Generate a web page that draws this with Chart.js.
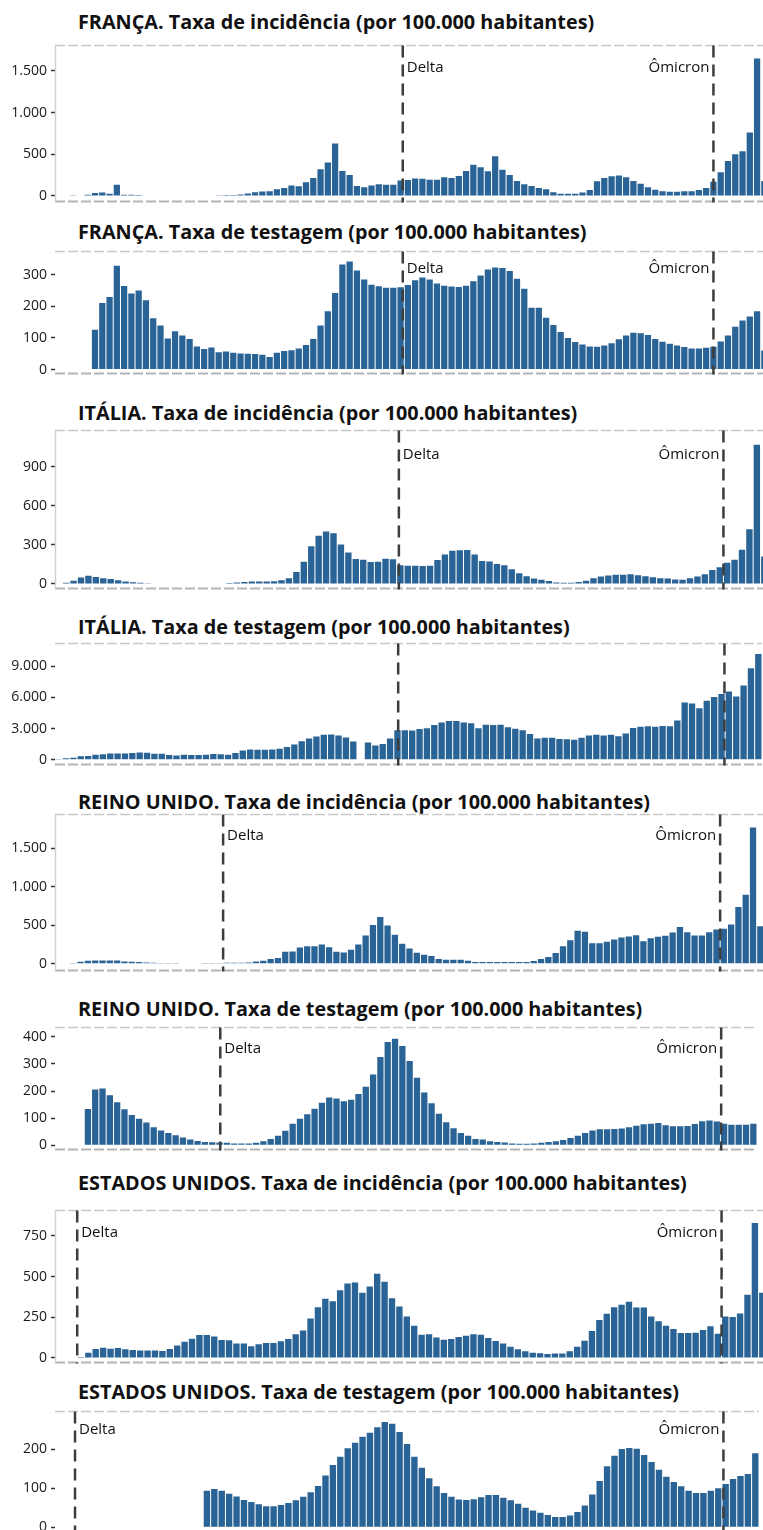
<!DOCTYPE html>
<html>
<head>
<meta charset="utf-8">
<script src="https://cdn.jsdelivr.net/npm/chart.js@4.4.1/dist/chart.umd.min.js"></script>
<style>
  html, body { margin: 0; padding: 0; background: #fff; }
  body { position: relative; width: 763px; height: 1530px; overflow: hidden; }
  .title { position: absolute; left: 78px; height: 22px; line-height: 22px; white-space: nowrap;
           font: bold 19px "Open Sans", sans-serif; color: #111; transform-origin: 0 50%; }
  canvas { position: absolute; left: 0; }
</style>
</head>
<body>
<script>
// weekly rates, one value per week slot (null = no data); last value is cut by the picture edge
const frIncidence = [null, null,
  3, 5, 15, 35, 40, 25, 135, 15, 15, 10, 5, 5, 5, 5, 5, 5, 5, 5, 5, 5, 8, 10, 12,
  18, 28, 45, 52, 55, 80, 95, 125, 115, 165, 215, 320, 400, 630, 300, 250, 120, 105, 125, 140, 135, 135, 185,
  190, 210, 205, 195, 195, 225, 215, 240, 300, 375, 345, 295, 475, 315, 250, 180, 140, 120, 95, 80, 45,
  25, 25, 25, 40, 70, 175, 215, 235, 245, 225, 180, 145, 105, 75, 55, 50, 50, 55, 55, 70, 95,
  170, 285, 420, 500, 535, 760, 1650, 180];
const frTesting = [null, null, null, null, null,
  126, 210, 229, 328, 264, 240, 250, 219, 162, 139, 98, 121, 108, 97, 73, 65, 70, 55, 57, 53, 51, 50,
  49, 47, 40, 53, 59, 61, 67, 78, 97, 139, 184, 242, 332, 341, 313, 284, 268, 263, 258, 258, 260,
  267, 282, 291, 284, 272, 265, 262, 261, 265, 279, 297, 316, 322, 321, 311, 287, 255, 195, 195, 164,
  141, 119, 100, 87, 79, 73, 72, 76, 83, 96, 108, 116, 115, 109, 97, 88, 82, 76, 71, 67, 67, 69,
  72, 89, 108, 135, 155, 168, 184, 60];
const itIncidence = [null,
  8, 25, 50, 63, 53, 43, 38, 28, 18, 13, 8, 5, 3, 2, 2, 2, 2, 2, 2, 2, 2, 3,
  6, 10, 15, 18, 18, 18, 20, 28, 43, 92, 171, 290, 370, 403, 390, 303, 242, 191, 186, 168, 171, 194, 189,
  143, 140, 140, 138, 140, 184, 227, 255, 258, 260, 227, 176, 173, 153, 143, 112, 82, 59, 41, 31, 23, 10,
  8, 8, 15, 25, 43, 56, 64, 71, 71, 74, 66, 59, 51, 43, 41, 33, 31, 43, 56, 74, 107, 128,
  163, 186, 263, 421, 1071, 210];
const itTesting = [
  60, 130, 190, 320, 350, 480, 510, 600, 600, 600, 640, 700, 670, 570, 570, 450, 410, 480, 450, 450,
  480, 540, 510, 480, 640, 890, 990, 950, 950, 990, 1050, 1210, 1460, 1780, 2040, 2230, 2390, 2420, 2320, 2130,
  1750, null, 1650, 1370, 1500, 2040,
  2830, 2830, 2800, 2960, 3020, 3340, 3590, 3720, 3720, 3590, 3500, 3020, 3370, 3340, 3370, 3120, 2990, 2830,
  2480, 2040, 2100, 2100, 2000, 1970, 1910, 2100, 2320, 2390, 2320, 2390, 2260, 2510, 3050, 3180, 3210, 3180,
  3240, 3210, 3780, 5500, 5410, 4960, 5690, 6040,
  6330, 6580, 6100, 7150, 8810, 10180];
const ukIncidence = [null,
  4, 9, 26, 39, 43, 43, 43, 43, 30, 26, 22, 17, 13, 9, 9, 9, 4, 4, 4, 9, 9, 9,
  13, 13, 13, 17, 30, 39, 60, 73, 155, 160, 211, 228, 228, 250, 215, 155, 147, 181, 250, 366, 504, 608,
  496, 375, 259, 198, 142, 116, 99, 60, 52, 52, 52, 39, 22, 22, 22, 22, 22, 22, 22, 22, 35, 60, 86, 138,
  228, 306, 427, 414, 267, 267, 285, 315, 340, 353, 371, 293, 332, 349, 362, 405, 478, 410, 366, 366, 409, 444,
  453, 509, 737, 897, 1771, 487];
const ukTesting = [null, null, null, null,
  134, 206, 210, 185, 159, 133, 112, 98, 84, 67, 55, 45, 37, 29, 21, 16, 12, 11, 10,
  9, 7, 7, 7, 9, 15, 23, 35, 54, 80, 98, 115, 135, 157, 176, 173, 163, 168, 189, 216, 261, 326, 381, 393,
  366, 311, 249, 195, 155, 116, 85, 63, 45, 35, 23, 21, 15, 12, 10, 7, 6, 6, 7, 9, 12, 15, 20, 27, 35, 45,
  55, 59, 59, 60, 62, 67, 72, 78, 80, 82, 74, 70, 70, 71, 79, 89, 92, 88,
  80, 76, 76, 76, 80];
const usIncidence = [null, null, 2, 5,
  31, 55, 63, 57, 61, 53, 49, 45, 45, 45, 43, 55, 76, 100, 118, 141, 141, 131, 110, 108, 88, 88, 71,
  84, 92, 92, 102, 116, 145, 169, 243, 312, 363, 349, 416, 457, 463, 400, 439, 518, 469, 367, 316, 255,
  198, 143, 145, 126, 112, 116, 129, 137, 145, 143, 122, 104, 88, 69, 53, 41, 31, 29, 24, 27, 27, 41,
  69, 106, 165, 233, 271, 312, 327, 345, 310, 310, 255, 226, 198, 178, 153, 153, 155, 171, 194, 149,
  255, 251, 273, 388, 830, 400];
const usTesting = [null, null, null, null, null, null, null, null, null, null,
  null, null, null, null, null, null, null, null, null, null,
  94, 98, 94, 86, 79, 70, 65, 59, 54, 54, 57, 62, 69, 78, 90, 106, 133, 160, 181, 203,
  217, 233, 243, 257, 271, 266, 245, 214, 181, 153, 126, 105, 88, 78, 71, 70, 72, 77, 83, 83,
  76, 69, 60, 50, 43, 37, 31, 26, 26, 30, 39, 56, 84, 119, 157, 184, 201, 204, 202, 186,
  168, 148, 130, 116, 105, 94, 88, 88, 94, 100,
  111, 124, 132, 137, 190];

const titles = [
  'FRANÇA. Taxa de incidência (por 100.000 habitantes)',
  'FRANÇA. Taxa de testagem (por 100.000 habitantes)',
  'ITÁLIA. Taxa de incidência (por 100.000 habitantes)',
  'ITÁLIA. Taxa de testagem (por 100.000 habitantes)',
  'REINO UNIDO. Taxa de incidência (por 100.000 habitantes)',
  'REINO UNIDO. Taxa de testagem (por 100.000 habitantes)',
  'ESTADOS UNIDOS. Taxa de incidência (por 100.000 habitantes)',
  'ESTADOS UNIDOS. Taxa de testagem (por 100.000 habitantes)',
];

const ticksFrInc = [0, 500, 1000, 1500];
const ticksFrTest = [0, 100, 200, 300];
const ticksItInc = [0, 300, 600, 900];
const ticksItTest = [0, 3000, 6000, 9000];
const ticksUkInc = [0, 500, 1000, 1500];
const ticksUkTest = [0, 100, 200, 300, 400];
const ticksUsInc = [0, 250, 500, 750];
const ticksUsTest = [0, 100, 200];

// variant dates, as week-slot positions on each country's axis
const eventNames = ['Delta', 'Ômicron'];
const frEvents = [47.8, 90.5];
const itEvents = [46.3, 90.0];
const itTestEvents = [46.6, 90.9];
const ukEvents = [23.0, 91.0];
const ukTestEvents = [22.6, 91.1];
const usEvents = [3.0, 90.0];
const usTestEvents = [2.7, 90.2];

const BAR = '#2a6395';
const AXIS_W = 55;

// layout of each panel (pixels) and its value range
const panels = [
  { data: frIncidence, ticks: ticksFrInc, events: frEvents, min: -80, max: 1806, top: 45, bottom: 203, slot: 7.28, titleY: 20, labelDy: 22, left: true, labels: true },
  { data: frTesting, ticks: ticksFrTest, events: frEvents, min: -15.7, max: 373, top: 251, bottom: 375, slot: 7.28, titleY: 230, labelDy: 17, left: false, labels: true },
  { data: itIncidence, ticks: ticksItInc, events: itEvents, min: -44, max: 1181, top: 430, bottom: 590, slot: 7.43, titleY: 411, labelDy: 24, left: true, labels: true },
  { data: itTesting, ticks: ticksItTest, events: itTestEvents, min: -573, max: 11207, top: 643, bottom: 766, slot: 7.36, titleY: 625, labelDy: 20, left: false, labels: false },
  { data: ukIncidence, ticks: ticksUkInc, events: ukEvents, min: -103, max: 1942, top: 814, bottom: 972, slot: 7.31, titleY: 800, labelDy: 21, left: true, labels: true },
  { data: ukTesting, ticks: ticksUkTest, events: ukTestEvents, min: -19.5, max: 435, top: 1027, bottom: 1151, slot: 7.31, titleY: 1007, labelDy: 21, left: false, labels: true },
  { data: usIncidence, ticks: ticksUsInc, events: usEvents, min: -35, max: 907, top: 1210, bottom: 1364, slot: 7.41, titleY: 1181, labelDy: 22, left: true, labels: true },
  { data: usTesting, ticks: ticksUsTest, events: usTestEvents, min: -14, max: 298, top: 1411, bottom: 1533, slot: 7.41, titleY: 1390, labelDy: 18, left: false, labels: true },
];

const fmt = v => String(v).replace(/\B(?=(\d{3})+(?!\d))/g, '.');

// frame, variant lines and their labels
function decor(p) {
  return {
    id: 'decor',
    afterDatasetsDraw(chart) {
      const { ctx, chartArea: a, scales: { x } } = chart;
      const step = x.getPixelForValue(1) - x.getPixelForValue(0);
      const x0 = x.getPixelForValue(0) - step / 2;
      const seg = (x1, y1, x2, y2) => { ctx.beginPath(); ctx.moveTo(x1, y1); ctx.lineTo(x2, y2); ctx.stroke(); };
      ctx.save();
      ctx.setLineDash([10, 3]);
      ctx.lineWidth = 1.5;
      ctx.strokeStyle = '#c8c8c8';
      seg(a.left, a.top, a.right, a.top);
      ctx.lineWidth = 2;
      ctx.strokeStyle = '#b4b4b4';
      seg(a.left, a.bottom - 1, a.right, a.bottom - 1);
      if (p.left) {
        ctx.setLineDash([]);
        ctx.lineWidth = 1.5;
        ctx.strokeStyle = '#d2d2d2';
        seg(a.left + 0.5, a.top, a.left + 0.5, a.bottom);
      }
      p.events.forEach((pos, i) => {
        const px = x0 + pos * step;
        ctx.setLineDash([12, 7]);
        ctx.lineWidth = 2.5;
        ctx.strokeStyle = '#3d3d3d';
        seg(px, a.top, px, a.bottom);
        if (!p.labels) return;
        ctx.fillStyle = '#111';
        ctx.font = '15px "Open Sans"';
        ctx.textBaseline = 'middle';
        ctx.textAlign = i === 0 ? 'left' : 'right';
        ctx.fillText(eventNames[i], px + (i === 0 ? 4 : -4), a.top + p.labelDy);
      });
      ctx.restore();
    },
  };
}

const PAD = 12;
panels.forEach((p, k) => {
  const t = document.createElement('div');
  t.className = 'title';
  t.textContent = titles[k];
  t.style.top = (p.titleY - 11) + 'px';
  document.body.appendChild(t);

  const canvas = document.createElement('canvas');
  const w = Math.round(AXIS_W + p.data.length * p.slot);
  const h = Math.round(p.bottom - p.top + 2 * PAD);
  canvas.width = w;
  canvas.height = h;
  canvas.style.width = w + 'px';
  canvas.style.height = h + 'px';
  canvas.style.top = (p.top - PAD) + 'px';
  document.body.appendChild(canvas);

  new Chart(canvas, {
    type: 'bar',
    data: {
      labels: p.data.map((_, i) => i),
      datasets: [{
        data: p.data,
        backgroundColor: BAR,
        borderWidth: 0,
        barPercentage: 0.86,
        categoryPercentage: 1,
      }],
    },
    options: {
      responsive: false,
      animation: false,
      events: [],
      layout: { padding: { top: PAD, bottom: PAD, left: 0, right: 0 } },
      plugins: { legend: { display: false }, tooltip: { enabled: false } },
      scales: {
        x: { display: false, offset: true },
        y: {
          min: p.min,
          max: p.max,
          afterFit: s => { s.width = AXIS_W; },
          afterBuildTicks: s => { s.ticks = p.ticks.map(v => ({ value: v })); },
          border: { display: false },
          grid: { drawOnChartArea: false, drawTicks: true, tickLength: 4, tickColor: '#333', tickWidth: 1.5 },
          ticks: {
            padding: 4,
            color: '#1a1a1a',
            font: { family: '"Open Sans"', size: 14 },
            callback: v => fmt(v),
          },
        },
      },
    },
    plugins: [decor(p)],
  });
});

// fit the titles to the width of the original lettering
document.fonts.ready.then(() => {
  const els = document.querySelectorAll('.title');
  const k = 516 / els[0].offsetWidth;
  els.forEach(el => { el.style.transform = 'scaleX(' + k.toFixed(3) + ')'; });
});
</script>
</body>
</html>
